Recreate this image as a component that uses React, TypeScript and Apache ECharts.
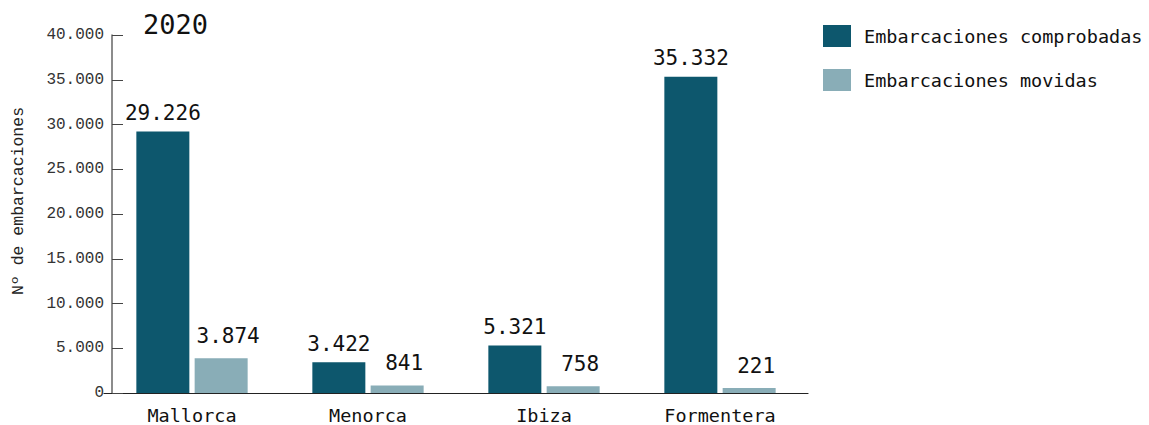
import React, { useEffect, useRef } from "react";
import * as echarts from "echarts";

const islands = ["Mallorca", "Menorca", "Ibiza", "Formentera"];
const comprobadas = [29226, 3422, 5321, 35332];
const movidas = [3874, 841, 758, 221];
const seriesNames = ["Embarcaciones comprobadas", "Embarcaciones movidas"];
const yTicks = { min: 0, max: 40000, interval: 5000 };
const titleText = "2020";
const yAxisName = "Nº de embarcaciones";

const fmt = (v: number) => String(v).replace(/\B(?=(\d{3})+(?!\d))/g, ".");

const DARK = "#0d576d";
const LIGHT = "#89adb7";
const MONO = "'DejaVu Sans Mono', monospace";
const THIN = "'Liberation Mono', monospace";

export default function App() {
  const ref = useRef<HTMLDivElement>(null);
  useEffect(() => {
    if (!ref.current) return;
    const chart = echarts.init(ref.current, null, { renderer: "svg" });
    chart.setOption({
      animation: false,
      grid: { left: 104, right: 341, top: 35, bottom: 31, containLabel: false },
      title: {
        text: titleText,
        left: 138,
        top: 6,
        textStyle: { fontFamily: MONO, fontSize: 27, fontWeight: "normal", color: "#111" },
      },
      legend: {
        orient: "vertical",
        left: 823,
        top: 25,
        padding: 0,
        itemWidth: 28,
        itemHeight: 22,
        itemGap: 22,
        icon: "rect",
        textStyle: { fontFamily: MONO, fontSize: 18.5, color: "#111", padding: [0, 0, 0, 8] },
        data: seriesNames,
      },
      graphic: [
        {
          type: "text",
          x: 18,
          y: 201,
          rotation: Math.PI / 2,
          style: {
            text: yAxisName,
            fontFamily: THIN,
            fontSize: 16.5,
            fill: "#222",
            align: "center",
            verticalAlign: "middle",
          },
        },
      ],
      xAxis: {
        type: "category",
        data: islands,
        axisLine: { lineStyle: { color: "#222", width: 1.2 } },
        axisTick: {
          inside: true,
          length: 10,
          lineStyle: { color: "#444" },
          interval: (i: number) => i !== 0,
        },
        axisLabel: { fontFamily: MONO, fontSize: 18.5, color: "#111", margin: 13 },
      },
      yAxis: {
        type: "value",
        min: yTicks.min,
        max: yTicks.max,
        interval: yTicks.interval,
        offset: -8,
        splitLine: { show: false },
        axisLine: { show: true, lineStyle: { color: "#666", width: 1.5 } },
        axisTick: { show: true, inside: true, length: 11, lineStyle: { color: "#444" } },
        axisLabel: {
          fontFamily: THIN,
          fontSize: 16,
          color: "#333",
          margin: 8,
          padding: [0, 0, 8, 0],
          formatter: (v: number) => fmt(v),
        },
      },
      series: [
        {
          name: seriesNames[0],
          type: "bar",
          data: comprobadas,
          barWidth: 53,
          barGap: "10%",
          itemStyle: { color: DARK },
          label: {
            show: true,
            position: "top",
            distance: 8,
            fontFamily: MONO,
            fontSize: 21,
            color: "#111",
            formatter: (p: any) => fmt(p.value),
          },
        },
        {
          name: seriesNames[1],
          type: "bar",
          data: movidas,
          barWidth: 53,
          barGap: "10%",
          barMinHeight: 5,
          itemStyle: { color: LIGHT },
          label: {
            show: true,
            position: "top",
            distance: 12,
            offset: [7, 0],
            fontFamily: MONO,
            fontSize: 21,
            color: "#111",
            formatter: (p: any) => fmt(p.value),
          },
        },
      ],
    });
    return () => chart.dispose();
  }, []);
  return (
    <div
      ref={ref}
      style={{ position: "absolute", left: 0, top: 0, width: 1149, height: 425, overflow: "hidden" }}
    />
  );
}
